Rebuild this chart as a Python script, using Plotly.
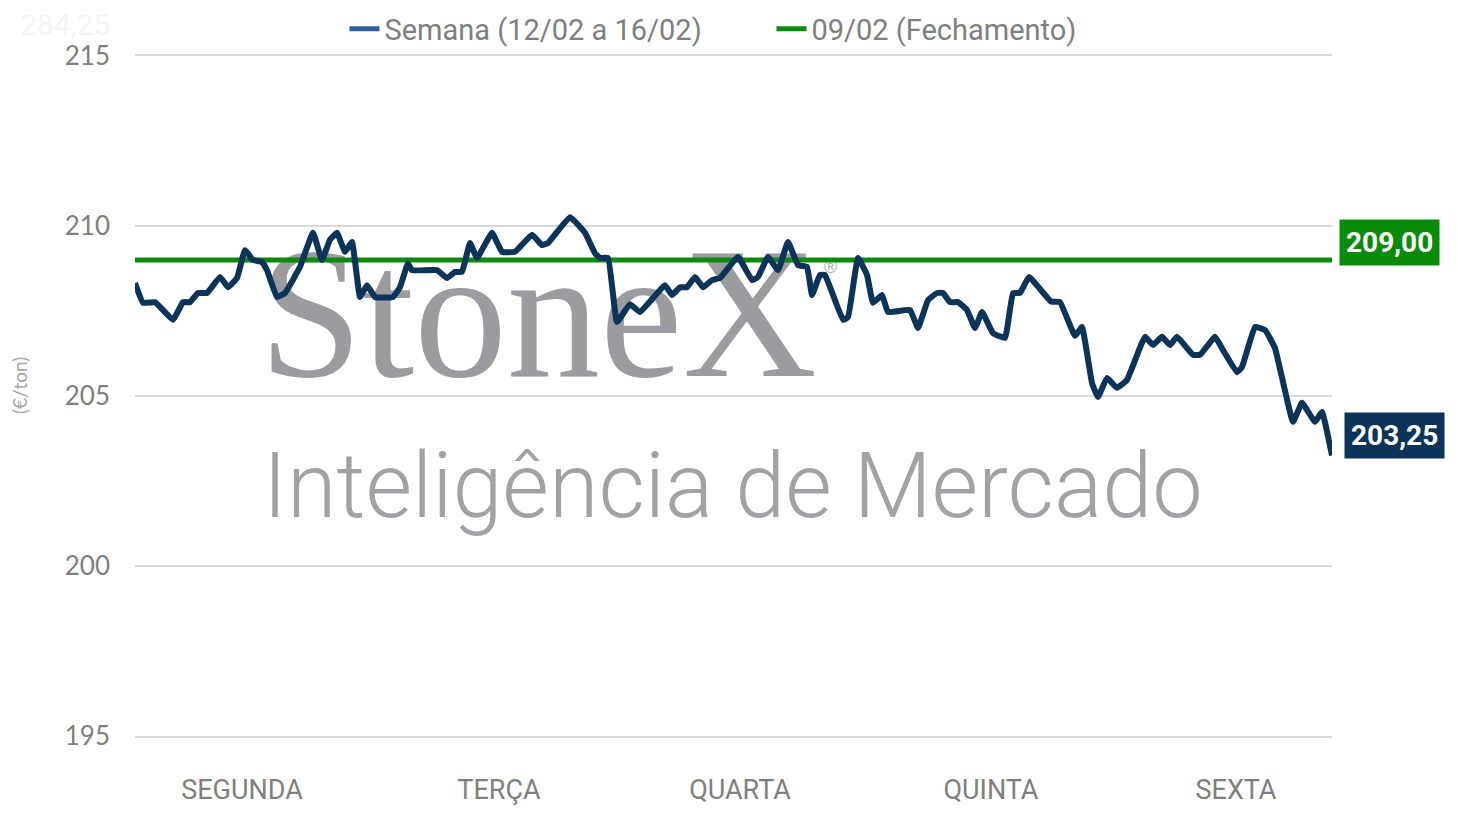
import plotly.graph_objects as go

# time within the week (0 = Monday open, ~120 = Friday close)
t = [0, 0.8, 2, 3.8, 4.8, 5.5, 6.3, 7.2, 8.5, 9.3,
     10.2, 11, 11.8, 12.7, 13.2, 14.2, 15, 16.5, 17.8, 18.7,
     19.5, 20.2, 21, 21.7, 22.5, 23.2, 24, 25.8, 26.5, 27.3,
     27.7, 30.2, 31.2, 32, 32.7, 33.5, 34.2, 35.7, 36.7, 38,
     39.7, 40.7, 41.3, 43.5, 45, 46, 46.5, 47.3, 48.2, 49.5,
     50.5, 53, 53.7, 54.5, 55.2, 56, 56.8, 57.7, 58.5, 60.3,
     61.7, 62.3, 63.3, 64.3, 65.3, 66.3, 67.2, 67.7, 68.5, 69,
     70.8, 71.3, 72.3, 73.2, 73.8, 74.7, 75.3, 77.5, 78.3, 79.3,
     80.2, 80.8, 81.5, 82.3, 83.2, 84, 84.7, 85.8, 87, 87.8,
     88.5, 89.4, 91.6, 92.5, 94, 94.7, 95.7, 96.3, 97.2, 98.2,
     99.2, 101, 101.8, 102.7, 103.5, 104.2, 105.8, 106.5, 108, 108.8,
     110.2, 110.7, 112, 113, 114, 115.8, 116.7, 118, 118.7, 119.7]

semana = [208.32, 207.74, 207.76, 207.24, 207.76, 207.76, 208.03, 208.03, 208.50, 208.20,
          208.47, 209.29, 209.00, 208.94, 208.70, 207.91, 208.03, 208.80, 209.80, 209.00,
          209.60, 209.80, 209.24, 209.53, 207.91, 208.26, 207.91, 207.91, 208.20, 208.90,
          208.70, 208.70, 208.47, 208.65, 208.65, 209.50, 209.06, 209.80, 209.24, 209.24,
          209.74, 209.44, 209.50, 210.26, 209.80, 209.20, 209.06, 209.06, 207.18, 207.70,
          207.47, 208.26, 207.97, 208.20, 208.20, 208.50, 208.20, 208.41, 208.47, 209.09,
          208.41, 208.50, 209.09, 208.70, 209.53, 208.85, 208.80, 207.97, 208.56, 208.56,
          207.24, 207.32, 209.06, 208.56, 207.74, 207.97, 207.47, 207.53, 207.00, 207.82,
          208.03, 208.03, 207.76, 207.76, 207.53, 207.00, 207.47, 206.85, 206.71, 208.03,
          208.03, 208.50, 207.78, 207.76, 206.77, 207.03, 205.38, 204.97, 205.53, 205.24,
          205.47, 206.74, 206.50, 206.74, 206.50, 206.74, 206.21, 206.21, 206.74, 206.35,
          205.70, 205.85, 207.03, 206.94, 206.41, 204.24, 204.80, 204.24, 204.53, 203.25]

fechamento = 209.00
dias = ["SEGUNDA", "TERÇA", "QUARTA", "QUINTA", "SEXTA"]
dias_pos = [10.7, 36.4, 60.5, 85.6, 110.1]
y_ticks = [195, 200, 205, 210, 215]

navy = "#0C3358"
green = "#0A8A0A"
gray = "#7F7F7F"

fig = go.Figure()

# watermark first so the lines sit on top of it
fig.add_trace(go.Scatter(x=[12.4], y=[206.95], mode="text", text=["StoneX"],
                         textposition="middle right", showlegend=False, hoverinfo="skip",
                         textfont=dict(family="Liberation Serif", size=186, color="#9A9CA0")))
fig.add_trace(go.Scatter(x=[68.9], y=[208.75], mode="text", text=["®"],
                         textposition="middle right", showlegend=False, hoverinfo="skip",
                         textfont=dict(family="Liberation Sans", size=18, color="#B0B2B5")))
fig.add_trace(go.Scatter(x=[12.8], y=[202.1], mode="text", text=["Inteligência de Mercado"],
                         textposition="middle right", showlegend=False, hoverinfo="skip",
                         textfont=dict(family="Roboto", size=90, weight=300, color="#A0A2A6")))

# legend-only entry (legend swatch is lighter blue than the line)
fig.add_trace(go.Scatter(x=[None], y=[None], mode="lines", name="Semana (12/02 a 16/02)",
                         line=dict(color="#2F5F9C", width=5)))
fig.add_trace(go.Scatter(x=[t[0], t[-1]], y=[fechamento, fechamento], mode="lines",
                         name="09/02 (Fechamento)", line=dict(color=green, width=5)))
fig.add_trace(go.Scatter(x=t, y=semana, mode="lines", showlegend=False,
                         line=dict(color=navy, width=6, shape="spline", smoothing=0.3)))

# value boxes on the right
fig.add_annotation(text="<b>209,00</b>", xref="paper", yref="y", x=1.006, y=fechamento,
                   xanchor="left", yanchor="middle", yshift=18, showarrow=False,
                   bgcolor=green, borderpad=6,
                   font=dict(family="Roboto", size=28, color="white"))
fig.add_annotation(text="<b>203,25</b>", xref="paper", yref="y", x=1.01, y=semana[-1],
                   xanchor="left", yanchor="middle", yshift=20, showarrow=False,
                   bgcolor=navy, borderpad=6,
                   font=dict(family="Roboto", size=28, color="white"))

# faint ghost label top-left
fig.add_annotation(text="284,25", xref="paper", yref="paper", x=-0.098, y=1.046,
                   xanchor="left", yanchor="middle", showarrow=False,
                   font=dict(family="Roboto", size=30, color="#F2F5F5"))

# y axis title
fig.add_annotation(text="(€/ton)", xref="paper", yref="paper", x=-0.097, y=0.516,
                   xanchor="center", yanchor="middle", textangle=-90, showarrow=False,
                   font=dict(family="Lato", size=19, color="#A6A6A6"))

# page body has an 8px offset, margins compensate for it
fig.update_layout(
    width=1458, height=821,
    margin=dict(l=127, r=134, t=48, b=93, autoexpand=False),
    paper_bgcolor="white", plot_bgcolor="white",
    font=dict(family="Roboto", color=gray),
    legend=dict(orientation="h", x=0.175, xanchor="left", y=1.04, yanchor="middle",
                font=dict(size=29, color=gray), traceorder="normal",
                entrywidth=382, entrywidthmode="pixels",
                bgcolor="rgba(0,0,0,0)"),
    showlegend=True,
)
fig.update_xaxes(range=[t[0], t[-1]], tickvals=dias_pos, ticktext=dias,
                 showgrid=False, zeroline=False, showline=True, mirror=True,
                 linecolor="#D9D9D9", linewidth=1.5, ticks="",
                 ticklabelstandoff=29, tickfont=dict(size=27, color=gray))
fig.update_yaxes(range=[195, 215], tickvals=y_ticks, showgrid=True, gridcolor="#D9D9D9",
                 gridwidth=1.5, zeroline=False, showline=False, ticks="",
                 ticklabelstandoff=24, tickfont=dict(family="Lato", size=26, color=gray))

fig.write_html("out.html")
